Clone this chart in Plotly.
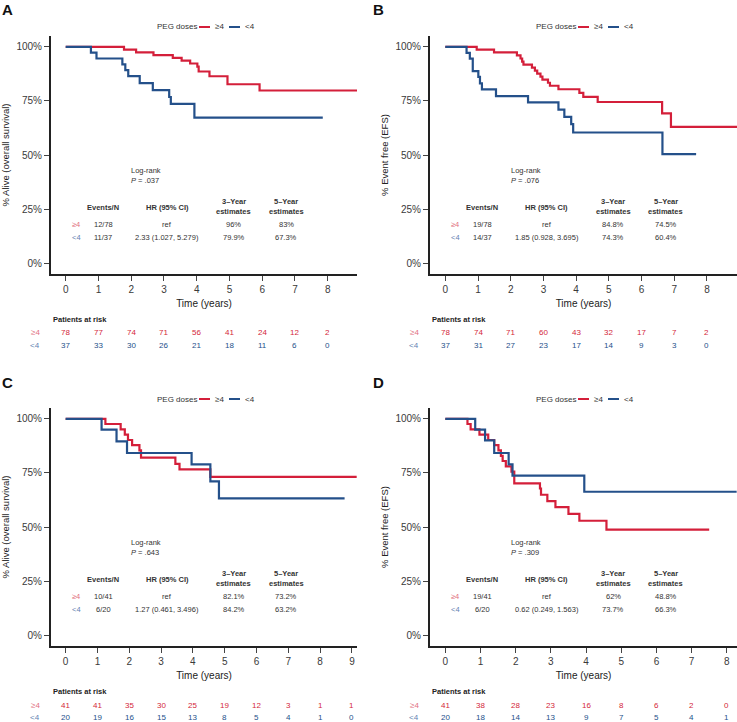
import plotly.graph_objects as go

RED = "#D41F3A"
BLUE = "#24508A"
RED_L = "#E2707F"
BLUE_L = "#5F82B2"
TXT = "#333333"

# ---------------- data ----------------
# Panel A: overall survival
A_hi_t = [0, 1.78, 2.15, 2.68, 3.27, 3.54, 3.80, 4.02, 4.06, 4.39, 4.94, 5.92, 8.9]
A_hi_s = [100, 98.7, 97.4, 96.2, 94.9, 93.6, 92.3, 90.8, 88.6, 86.4, 82.7, 79.8, 79.8]
A_lo_t = [0, 0.77, 0.94, 1.73, 1.82, 1.91, 2.26, 2.66, 3.16, 3.21, 3.93, 7.85]
A_lo_s = [100, 97.3, 94.6, 91.9, 89.2, 86.5, 83.2, 80.0, 76.8, 73.6, 67.3, 67.3]

# Panel B: event-free survival
B_hi_t = [0, 0.96, 1.49, 2.19, 2.30, 2.35, 2.39, 2.65, 2.74, 2.81, 2.91, 2.97, 3.14, 3.20,
          3.46, 4.10, 4.22, 4.66, 6.63, 6.90, 8.92]
B_hi_s = [100, 98.7, 97.4, 96.0, 94.6, 93.2, 91.8, 90.4, 89.0, 87.6, 86.2, 84.8, 83.4, 82.0,
          80.4, 78.7, 76.9, 74.5, 69.2, 63.0, 63.0]
B_lo_t = [0, 0.65, 0.75, 0.84, 1.01, 1.06, 1.12, 1.55, 2.53, 3.46, 3.64, 3.85, 3.91, 6.64, 7.67]
B_lo_s = [100, 97.2, 94.5, 88.8, 86.1, 83.1, 80.3, 77.2, 74.3, 71.0, 67.6, 64.3, 60.4, 50.4, 50.4]

# Panel C: overall survival
C_hi_t = [0, 1.25, 1.73, 1.86, 1.96, 2.09, 2.32, 2.37, 3.45, 3.58, 4.55, 9.15]
C_hi_s = [100, 97.6, 95.1, 92.7, 90.2, 87.8, 85.4, 82.1, 79.2, 76.6, 73.2, 73.2]
C_lo_t = [0, 1.13, 1.60, 1.93, 3.96, 4.55, 4.82, 8.77]
C_lo_s = [100, 95.0, 89.6, 84.2, 78.9, 71.1, 63.2, 63.2]

# Panel D: event-free survival
D_hi_t = [0, 0.63, 0.72, 0.97, 1.22, 1.39, 1.51, 1.58, 1.63, 1.72, 1.88, 1.96, 2.69, 2.72,
          2.90, 3.13, 3.50, 3.81, 4.58, 7.50]
D_hi_s = [100, 97.6, 95.1, 92.7, 90.2, 87.8, 85.4, 82.9, 80.5, 78.0, 75.6, 70.2, 67.8, 64.9,
          62.0, 59.2, 56.1, 52.9, 48.8, 48.8]
D_lo_t = [0, 0.85, 1.13, 1.39, 1.80, 1.91, 3.95, 8.28]
D_lo_s = [100, 95.0, 90.0, 84.2, 78.9, 73.7, 66.3, 66.3]

group_labels = ["≥4", "<4"]
legend_title = "PEG doses"

# numbers at risk
A_risk_hi = [78, 77, 74, 71, 56, 41, 24, 12, 2]
A_risk_lo = [37, 33, 30, 26, 21, 18, 11, 6, 0]
B_risk_hi = [78, 74, 71, 60, 43, 32, 17, 7, 2]
B_risk_lo = [37, 31, 27, 23, 17, 14, 9, 3, 0]
C_risk_hi = [41, 41, 35, 30, 25, 19, 12, 3, 1, 1]
C_risk_lo = [20, 19, 16, 15, 13, 8, 5, 4, 1, 0]
D_risk_hi = [41, 38, 28, 23, 16, 8, 6, 2, 0]
D_risk_lo = [20, 18, 14, 13, 9, 7, 5, 4, 1]

# summary tables
A_events = ["12/78", "11/37"]; A_hr = ["ref", "2.33 (1.027, 5.279)"]
A_y3 = ["96%", "79.9%"]; A_y5 = ["83%", "67.3%"]; A_p = ".037"
B_events = ["19/78", "14/37"]; B_hr = ["ref", "1.85 (0.928, 3.695)"]
B_y3 = ["84.8%", "74.3%"]; B_y5 = ["74.5%", "60.4%"]; B_p = ".076"
C_events = ["10/41", "6/20"]; C_hr = ["ref", "1.27 (0.461, 3.496)"]
C_y3 = ["82.1%", "84.2%"]; C_y5 = ["73.2%", "63.2%"]; C_p = ".643"
D_events = ["19/41", "6/20"]; D_hr = ["ref", "0.62 (0.249, 1.563)"]
D_y3 = ["62%", "73.7%"]; D_y5 = ["48.8%", "66.3%"]; D_p = ".309"

OS_TITLE = "% Alive (overall survival)"
EFS_TITLE = "% Event free (EFS)"
X_TITLE = "Time (years)"
Y_TICKS = [0, 25, 50, 75, 100]
Y_TICKTEXT = [f"{v}%" for v in Y_TICKS]

# ---------------- layout geometry ----------------
W, H = 737, 722
def px(x): return x / W
def py(y): return 1 - y / H

panels = [
    dict(letter="A", sfx="", hi=(A_hi_t, A_hi_s), lo=(A_lo_t, A_lo_s),
         risk=(A_risk_hi, A_risk_lo), ev=A_events, hr=A_hr, y3=A_y3, y5=A_y5, p=A_p,
         ytitle=OS_TITLE, left=51, right=357, top=0, xr=[-0.449, 8.895], ntick=9, lx=8),
    dict(letter="B", sfx="2", hi=(B_hi_t, B_hi_s), lo=(B_lo_t, B_lo_s),
         risk=(B_risk_hi, B_risk_lo), ev=B_events, hr=B_hr, y3=B_y3, y5=B_y5, p=B_p,
         ytitle=EFS_TITLE, left=430, right=737, top=0, xr=[-0.468, 8.92], ntick=9, lx=378),
    dict(letter="C", sfx="3", hi=(C_hi_t, C_hi_s), lo=(C_lo_t, C_lo_s),
         risk=(C_risk_hi, C_risk_lo), ev=C_events, hr=C_hr, y3=C_y3, y5=C_y5, p=C_p,
         ytitle=OS_TITLE, left=51, right=357, top=372, xr=[-0.46, 9.16], ntick=10, lx=8),
    dict(letter="D", sfx="4", hi=(D_hi_t, D_hi_s), lo=(D_lo_t, D_lo_s),
         risk=(D_risk_hi, D_risk_lo), ev=D_events, hr=D_hr, y3=D_y3, y5=D_y5, p=D_p,
         ytitle=EFS_TITLE, left=430, right=737, top=372, xr=[-0.435, 8.29], ntick=9, lx=378),
]

FONT = "Liberation Sans, Arial, Helvetica, sans-serif"

fig = go.Figure()
annotations = []
shapes = []
layout = dict(
    width=W, height=H, margin=dict(l=0, r=0, t=0, b=0),
    paper_bgcolor="white", plot_bgcolor="white", showlegend=False,
    font=dict(family=FONT, size=10, color=TXT),
)

for p in panels:
    xa = "x" + p["sfx"]; ya = "y" + p["sfx"]
    xkey = "xaxis" + p["sfx"]; ykey = "yaxis" + p["sfx"]
    top = p["top"]
    for (t, s), col, name in [(p["hi"], RED, group_labels[0]), (p["lo"], BLUE, group_labels[1])]:
        fig.add_trace(go.Scatter(
            x=t, y=s, mode="lines", name=name,
            line=dict(shape="hv", color=col, width=2.2),
            xaxis=xa, yaxis=ya, hoverinfo="skip"))

    ticks = list(range(p["ntick"]))
    layout[xkey] = dict(
        domain=[px(p["left"]), px(p["right"])], range=p["xr"], anchor=ya, tickvals=ticks,
        showgrid=False, zeroline=False, showline=True, linewidth=2, linecolor="#222",
        ticks="outside", ticklen=5, tickwidth=1, tickcolor="#444",
        tickfont=dict(size=10, color="#3a3a3a"),
        title=dict(text=X_TITLE, font=dict(size=10, color="#222"), standoff=6),
    )
    layout[ykey] = dict(
        domain=[py(top + 274), py(top + 36)], range=[-5, 105], anchor=xa,
        tickvals=Y_TICKS, ticktext=Y_TICKTEXT,
        showgrid=False, zeroline=False, showline=True, linewidth=2, linecolor="#222",
        ticks="outside", ticklen=5, tickwidth=1, tickcolor="#444",
        tickfont=dict(size=10, color="#3a3a3a"),
        title=dict(text=p["ytitle"], font=dict(size=9.5, color="#222"), standoff=5),
    )

    # legend (key) above plot
    L = p["left"]; ly = py(top + 27)
    annotations.append(dict(text=legend_title, xref="paper", yref="paper", x=px(L + 104), y=ly,
                            showarrow=False, xanchor="left", yanchor="middle",
                            font=dict(size=8, color=TXT)))
    for k, (col, x0) in enumerate([(RED, L + 148), (BLUE, L + 178)]):
        shapes.append(dict(type="line", xref="paper", yref="paper", x0=px(x0), x1=px(x0 + 11),
                           y0=ly, y1=ly, line=dict(color=col, width=2)))
        annotations.append(dict(text=group_labels[k], xref="paper", yref="paper", x=px(x0 + 14),
                                y=ly, showarrow=False, xanchor="left", yanchor="middle",
                                font=dict(size=8, color=TXT)))

    # panel letter
    annotations.append(dict(text="<b>" + p["letter"] + "</b>", xref="paper", yref="paper",
                            x=px(p["lx"]), y=py(top + 10), showarrow=False,
                            font=dict(size=15, color="#111"), xanchor="center", yanchor="middle"))

    xd = xa + " domain"
    def ann(text, x, y, size=7.5, color=TXT, anchor="center"):
        annotations.append(dict(text=text, xref=xd, yref=ya, x=x, y=y, showarrow=False,
                                font=dict(size=size, color=color), xanchor=anchor, yanchor="middle"))
    # log-rank
    ann("Log-rank", 0.256, 42.7, anchor="left")
    ann("<i>P</i> = " + p["p"], 0.256, 38.4, anchor="left")
    # table header
    ann("<b>Events/N</b>", 0.171, 25.9)
    ann("<b>HR (95% CI)</b>", 0.380, 25.9)
    ann("<b>3\u2013Year</b>", 0.597, 28.3)
    ann("<b>estimates</b>", 0.597, 23.7)
    ann("<b>5\u2013Year</b>", 0.768, 28.3)
    ann("<b>estimates</b>", 0.768, 23.7)
    for i, (yy, lc) in enumerate([(18.0, RED_L), (12.0, BLUE_L)]):
        ann(group_labels[i], 0.083, yy, color=lc)
        ann(p["ev"][i], 0.171, yy)
        ann(p["hr"][i], 0.380, yy)
        ann(p["y3"][i], 0.597, yy)
        ann(p["y5"][i], 0.768, yy)

    # risk table
    annotations.append(dict(text="<b>Patients at risk</b>", xref=xd, yref="paper", x=0,
                            y=py(top + 319), showarrow=False, xanchor="left", yanchor="middle",
                            font=dict(size=7.5, color="#222")))
    for j, (vals, col, lcol) in enumerate([(p["risk"][0], RED, RED_L), (p["risk"][1], BLUE, BLUE_L)]):
        yy = py(top + 333 + 12 * j)
        annotations.append(dict(text=group_labels[j], xref=xd, yref="paper", x=-0.028, y=yy,
                                showarrow=False, xanchor="right", yanchor="middle",
                                font=dict(size=8, color=lcol)))
        for k, v in enumerate(vals):
            annotations.append(dict(text=str(v), xref=xa, yref="paper", x=ticks[k], y=yy,
                                    showarrow=False, xanchor="center", yanchor="middle",
                                    font=dict(size=8, color=col)))

layout["annotations"] = annotations
layout["shapes"] = shapes
fig.update_layout(**layout)
fig.write_html("out.html", config={"displayModeBar": False},
               post_script="document.body.style.margin='0';")
